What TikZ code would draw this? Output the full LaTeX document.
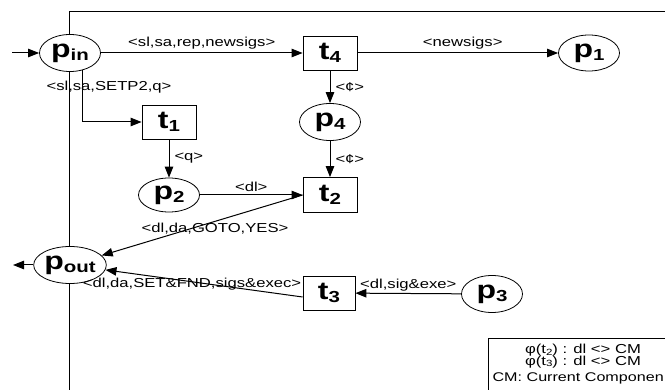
\documentclass[tikz,border=0pt]{standalone}
\usepackage{fontspec}
\setmainfont{Liberation Sans}[FakeStretch=1.28]
\usetikzlibrary{arrows.meta,calc,shapes.geometric}
\newcommand\nlab[2]{{\fontsize{25}{25}\selectfont\bfseries #1\raisebox{-3pt}{\fontsize{16}{16}\selectfont #2}}}
\newcommand\smallsub[1]{\raisebox{-1.5pt}{\fontsize{9}{9}\selectfont #1}}
\tikzset{
  place/.style={draw, ellipse, fill=white, line width=0.8pt, minimum width=61pt, minimum height=37pt, inner sep=0pt},
  trans/.style={draw, rectangle, fill=white, line width=0.8pt, minimum width=54pt, minimum height=34pt, inner sep=0pt},
  arr/.style={line width=1pt, -{Triangle[length=11pt,width=8.5pt]}},
  lbl/.style={font=\fontsize{13}{13}\selectfont, inner sep=0pt},
  frame/.style={line width=1pt}
}
\begin{document}
\begin{tikzpicture}[x=1pt,y=-1pt]
\useasboundingbox (0,0) rectangle (665,390);
\clip (0,0) rectangle (665,390);
% frame
\draw[frame] (69,400) -- (69,12) -- (700,12);
% nodes
\node[place] (pin) at (70,53) {\nlab{p}{in}};
\node[place] (pout) at (70,265) {\nlab{p}{out}};
\node[place, minimum height=36pt] (p1) at (589,53) {\nlab{p}{1}};
\node[place, minimum height=34pt] (p2) at (169,195) {\nlab{p}{2}};
\node[place] (p4) at (330,122) {\nlab{p}{4}};
\node[place] (p3) at (492,294) {\nlab{p}{3}};
\node[trans] (t4) at (330,53) {\nlab{t}{4}};
\node[trans] (t1) at (169,122) {\nlab{t}{1}};
\node[trans, minimum height=35pt] (t2) at (330,195) {\nlab{t}{2}};
\node[trans, minimum width=52pt] (t3) at (329,293) {\nlab{t}{3}};
% legend
\node[draw, line width=0.8pt, minimum width=240pt, minimum height=70pt, anchor=north west] (leg) at (488,338) {};
\node[lbl, anchor=north, align=center] (legt) at (583,344) {φ(t\smallsub{2}) : dl <> CM\\[-1.5pt]φ(t\smallsub{3}) : dl <> CM};
\node[lbl, anchor=east, font=\fontsize{12.6}{13}\selectfont] (legc) at (664,378) {CM: Current Componen};
% free ends
\coordinate (in) at (12,53);
\coordinate (out) at (13,265);
% arcs
\draw[arr] (in) -- (pin);
\draw[arr] (pout) -- (out);
\draw[arr] (pin) -- node[lbl, above=3pt] {<sl,sa,rep,newsigs>} (t4);
\draw[arr] (t4) -- node[lbl, above=3pt, xshift=5pt] {<newsigs>} (p1);
\draw[arr] (pin.-55) |- (t1.west);
\node[lbl] (l1) at (109,87) {<sl,sa,SETP2,q>};
\draw[arr] (t1) -- node[lbl, right=5pt] {<q>} (p2);
\draw[arr] (t4) -- node[lbl, right=5pt] {<¢>} (p4);
\draw[arr] (p4) -- node[lbl, right=5pt] {<¢>} (t2);
\draw[arr] (p2) -- node[lbl, above=3pt] {<dl>} (t2);
\draw[arr] (t2.west) -- (pout);
\node[lbl] (l2) at (215,229) {<dl,da,GOTO,YES>};
\draw[arr] ([yshift=-4pt]t3.west) -- (pout);
\node[lbl] (l3) at (192,284) {<dl,da,SET\&FND,sigs\&exec>};
\draw[arr] (p3) -- node[lbl, above=2pt] {<dl,sig\&exe>} (t3);
\end{tikzpicture}
\end{document}
